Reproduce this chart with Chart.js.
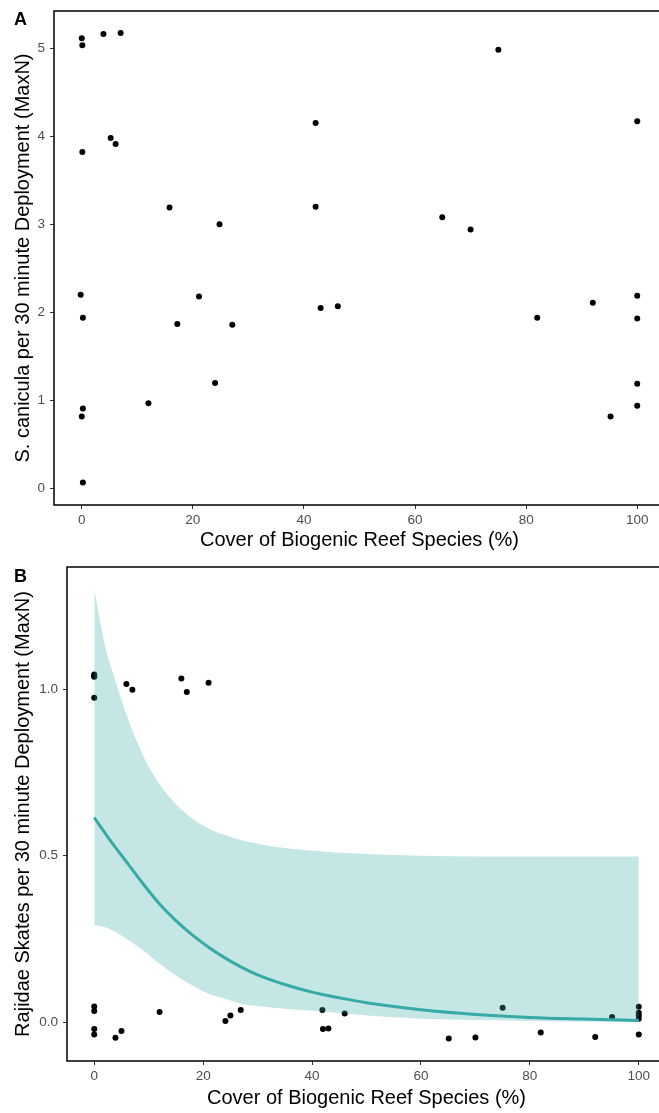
<!DOCTYPE html>
<html>
<head>
<meta charset="utf-8">
<script src="https://cdn.jsdelivr.net/npm/chart.js@4/dist/chart.umd.min.js"></script>
<style>
  body { margin: 0; overflow: hidden; background: #fff; }
  #boxA { position: absolute; left: 0; top: 0; }
  #boxB { position: absolute; left: 0; top: 560px; }
</style>
</head>
<body>
<div id="boxA"><canvas id="chartA" width="670" height="560"></canvas></div>
<div id="boxB"><canvas id="chartB" width="670" height="553"></canvas></div>
<script>
// panel A : S. canicula
var aCover = [0, 0.1, 3.9, 7, 0.1, 5.2, 6.1, 15.8, 24.8, 42.1, 42.1, 75, 100, 64.9, 70, -0.2, 0.2, 21.1, 17.2, 27.1, 24, 12, 0.2, 0, 0.2, 43, 46.1, 82, 92, 100, 100, 100, 100, 95.2];
var aMaxN = [5.11, 5.03, 5.16, 5.17, 3.82, 3.98, 3.91, 3.19, 3.0, 4.15, 3.2, 4.98, 4.17, 3.08, 2.94, 2.2, 1.94, 2.18, 1.87, 1.86, 1.2, 0.97, 0.91, 0.82, 0.07, 2.05, 2.07, 1.94, 2.11, 2.19, 1.93, 1.19, 0.94, 0.82];

// panel B : Rajidae
var bCover = [0, 0, 0, 0, 5.9, 7, 16, 17, 21, 0, 0, 0, 0, 3.9, 5, 12, 24.1, 25, 26.9, 41.9, 42, 43, 46, 65.1, 70, 75, 82, 92, 95.1, 100, 100, 100, 100, 100];
var bMaxN = [1.045, 1.04, 1.038, 0.975, 1.016, 0.999, 1.033, 0.992, 1.02, 0.047, 0.033, -0.021, -0.037, -0.047, -0.027, 0.03, 0.003, 0.02, 0.036, 0.036, -0.021, -0.019, 0.026, -0.049, -0.046, 0.043, -0.031, -0.045, 0.015, 0.046, 0.028, 0.02, 0.01, -0.037];

// fitted curve + confidence band
var fitCover = [0, 3, 6, 9, 12, 15, 18, 21, 24, 27, 30, 35, 40, 45, 50, 60, 70, 80, 90, 100];
var fitMaxN = [0.615, 0.545, 0.48, 0.415, 0.355, 0.305, 0.262, 0.225, 0.193, 0.165, 0.142, 0.113, 0.09, 0.073, 0.058, 0.037, 0.023, 0.014, 0.009, 0.005];
var bandCover = [0, 2, 4, 6, 9, 12, 15, 18, 21, 24, 27, 30, 35, 40, 50, 60, 70, 80, 90, 100];
var bandUpper = [1.30, 1.13, 1.02, 0.92, 0.80, 0.715, 0.655, 0.612, 0.582, 0.562, 0.547, 0.536, 0.523, 0.515, 0.505, 0.50, 0.498, 0.498, 0.498, 0.498];
var bandLower = [0.292, 0.285, 0.27, 0.25, 0.215, 0.175, 0.14, 0.11, 0.085, 0.07, 0.055, 0.048, 0.04, 0.034, 0.02, 0.01, 0.006, 0.003, 0.001, 0];

var xTicks = [0, 20, 40, 60, 80, 100];
var aYTicks = [0, 1, 2, 3, 4, 5];
var bYTicks = [0, 0.5, 1.0];

var toXY = function (xs, ys) {
    return xs.map(function (x, i) { return {x: x, y: ys[i]}; });
};

var fontFam = "'Liberation Sans', Arial, Helvetica, sans-serif";

// cadre du panneau + lettre A/B
var panelFrame = {
    id: 'panelFrame',
    afterDraw: function (chart, args, opts) {
        var ctx = chart.ctx;
        var a = chart.chartArea;
        ctx.save();
        ctx.strokeStyle = '#000';
        ctx.lineWidth = 1.5;
        ctx.strokeRect(a.left, a.top, a.right - a.left, a.bottom - a.top);
        ctx.fillStyle = '#000';
        ctx.font = 'bold 18px ' + fontFam;
        ctx.textBaseline = 'alphabetic';
        ctx.fillText(opts.tag, 14, opts.tagY);
        ctx.restore();
    }
};

var makeScales = function (yMin, yMax, yTicks, yTitle, yWidth, xHeight, xPad, yFmt) {
    return {
        x: {
            type: 'linear',
            min: -5,
            max: 105,
            afterBuildTicks: function (s) { s.ticks = xTicks.map(function (v) { return {value: v}; }); },
            afterFit: function (s) { s.height = xHeight; s.paddingLeft = 0; s.paddingRight = 0; },
            grid: { drawOnChartArea: false, tickLength: 4, color: '#333333', lineWidth: 1 },
            border: { display: false },
            ticks: { color: '#4D4D4D', padding: 3, font: { family: fontFam, size: 13.5 } },
            title: { display: true, text: 'Cover of Biogenic Reef Species (%)', color: '#000', padding: { top: 0, bottom: xPad }, font: { family: fontFam, size: 20 } }
        },
        y: {
            type: 'linear',
            min: yMin,
            max: yMax,
            afterBuildTicks: function (s) { s.ticks = yTicks.map(function (v) { return {value: v}; }); },
            // pas de marge auto en haut/bas, on place la zone a la main
            afterFit: function (s) { s.width = yWidth; s.paddingTop = 0; s.paddingBottom = 0; },
            grid: { drawOnChartArea: false, tickLength: 4, color: '#333333', lineWidth: 1 },
            border: { display: false },
            ticks: { color: '#4D4D4D', padding: 5, font: { family: fontFam, size: 13.5 }, callback: yFmt },
            title: { display: true, text: yTitle, color: '#000', padding: { top: 11, bottom: 0 }, font: { family: fontFam, size: 20 } }
        }
    };
};

var renderPanelA = function () {
    var ctx = document.getElementById('chartA');
    return new Chart(ctx, {
        type: 'scatter',
        data: {
            datasets: [{
                data: toXY(aCover, aMaxN),
                backgroundColor: '#000',
                borderWidth: 0,
                pointRadius: 3
            }]
        },
        options: {
            responsive: false,
            animation: false,
            layout: { padding: { top: 11, right: 5, left: 0, bottom: 0 } },
            plugins: { legend: { display: false }, tooltip: { enabled: false }, panelFrame: { tag: 'A', tagY: 25 } },
            scales: makeScales(-0.185, 5.42, aYTicks, 'S. canicula per 30 minute Deployment (MaxN)', 54, 55, 8,
                function (v) { return v; })
        },
        plugins: [panelFrame]
    });
};

var renderPanelB = function () {
    var ctx = document.getElementById('chartB');
    return new Chart(ctx, {
        type: 'scatter',
        data: {
            datasets: [{
                // ligne du modele
                type: 'line',
                data: toXY(fitCover, fitMaxN),
                borderColor: '#38AAA5',
                borderWidth: 3,
                pointRadius: 0,
                cubicInterpolationMode: 'monotone',
                fill: false
            }, {
                // borne haute, remplie jusqu'a la borne basse
                type: 'line',
                data: toXY(bandCover, bandUpper),
                borderWidth: 0,
                borderColor: 'rgba(0,0,0,0)',
                backgroundColor: 'rgba(58,175,169,0.3)',
                pointRadius: 0,
                cubicInterpolationMode: 'monotone',
                fill: '+1'
            }, {
                type: 'line',
                data: toXY(bandCover, bandLower),
                borderWidth: 0,
                borderColor: 'rgba(0,0,0,0)',
                pointRadius: 0,
                cubicInterpolationMode: 'monotone',
                fill: false
            }, {
                data: toXY(bCover, bMaxN),
                backgroundColor: '#000',
                borderWidth: 0,
                pointRadius: 3
            }]
        },
        options: {
            responsive: false,
            animation: false,
            layout: { padding: { top: 7, right: 4, left: 0, bottom: 0 } },
            plugins: { legend: { display: false }, tooltip: { enabled: false }, panelFrame: { tag: 'B', tagY: 22 } },
            scales: makeScales(-0.117, 1.368, bYTicks, 'Rajidae Skates per 30 minute Deployment (MaxN)', 67, 52, 3,
                function (v) { return v.toFixed(1); })
        },
        plugins: [panelFrame]
    });
};

renderPanelA();
renderPanelB();
</script>
</body>
</html>
